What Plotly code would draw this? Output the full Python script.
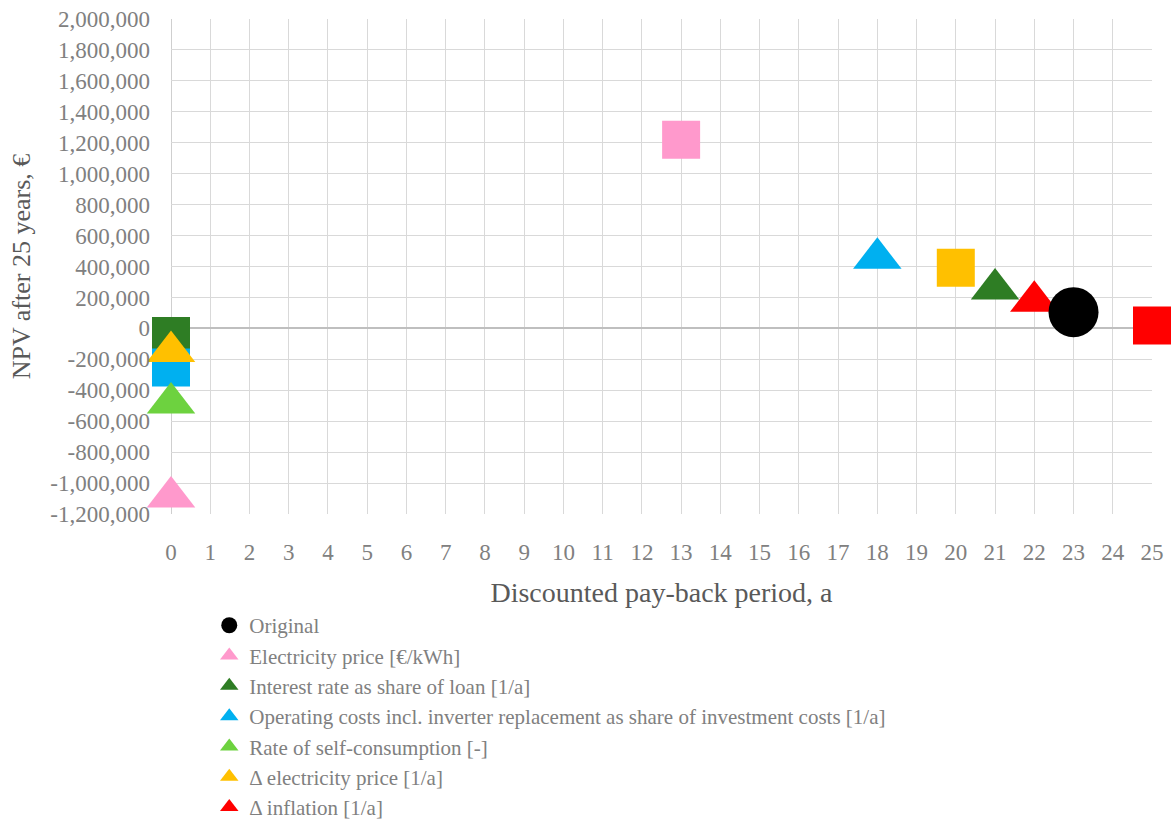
import plotly.graph_objects as go

# ---- data ----
original_x = [23]
original_y = [105000]

param_names = [
    "Electricity price [€/kWh]",
    "Interest rate as share of loan [1/a]",
    "Operating costs incl. inverter replacement as share of investment costs [1/a]",
    "Rate of self-consumption [-]",
    "Δ electricity price [1/a]",
    "Δ inflation [1/a]",
]
param_colors = ["#FF99CC", "#2E7D24", "#00B0F0", "#6DD23F", "#FFC000", "#FF0000"]

# triangle markers (one per parameter variation)
tri_x = [0, 21, 18, 0, 0, 22]
tri_y = [-1090000, 255000, 453000, -482000, -150000, 175000]

# square markers (other variation; None = not visible)
sq_x = [13, 0, 0, None, 20, 25]
sq_y = [1220000, -50000, -253000, None, 392000, 19000]

x_ticks = list(range(0, 26))
y_ticks = list(range(-1200000, 2000001, 200000))

FONT = "Liberation Serif"
TICK_COLOR = "#808080"
TITLE_COLOR = "#595959"

fig = go.Figure()

# squares (hidden from legend)
for name, col, x, y in zip(param_names, param_colors, sq_x, sq_y):
    if x is None:
        continue
    fig.add_trace(go.Scatter(
        x=[x], y=[y], mode="markers", name=name, showlegend=False,
        marker=dict(symbol="square", size=38, color=col),
        cliponaxis=False,
    ))

# triangles
for i, (name, col, x, y) in enumerate(zip(param_names, param_colors, tri_x, tri_y)):
    fig.add_trace(go.Scatter(
        x=[x], y=[y], mode="markers", name=name, legendrank=10 + i,
        marker=dict(symbol="triangle-up", size=42, color=col),
        cliponaxis=False,
    ))

# original
fig.add_trace(go.Scatter(
    x=original_x, y=original_y, mode="markers", name="Original", legendrank=1,
    marker=dict(symbol="circle", size=50, color="#000000"),
    cliponaxis=False,
))

fig.update_layout(
    width=1172, height=827,
    margin=dict(l=171, r=20, t=19, b=313, autoexpand=False),
    paper_bgcolor="white", plot_bgcolor="white",
    font=dict(family=FONT, color=TICK_COLOR),
    legend=dict(
        x=0.039, xanchor="left", y=-0.184, yanchor="top",
        font=dict(family=FONT, size=21, color=TICK_COLOR),
        bgcolor="rgba(0,0,0,0)", itemwidth=30,
    ),
    xaxis=dict(
        range=[0, 25], tickvals=x_ticks, ticktext=[str(v) for v in x_ticks],
        showgrid=True, gridcolor="#D9D9D9", gridwidth=1,
        zeroline=False, showline=False, ticks="",
        tickfont=dict(family=FONT, size=23, color=TICK_COLOR),
        ticklabelstandoff=22,
        title=dict(text="Discounted pay-back period, a", standoff=18,
                   font=dict(family=FONT, size=28, color=TITLE_COLOR)),
    ),
    yaxis=dict(
        range=[-1200000, 2000000], tickvals=y_ticks,
        ticktext=[f"{v:,}" for v in y_ticks],
        showgrid=True, gridcolor="#D9D9D9", gridwidth=1,
        zeroline=True, zerolinecolor="#BFBFBF", zerolinewidth=1.5,
        showline=False, ticks="",
        tickfont=dict(family=FONT, size=23, color=TICK_COLOR),
        ticklabelstandoff=20,
        title=dict(text="NPV after 25 years, €", standoff=12,
                   font=dict(family=FONT, size=26, color=TITLE_COLOR)),
    ),
    shapes=[dict(type="line", xref="x", yref="paper", x0=0, x1=0, y0=0, y1=1,
                 line=dict(color="#BFBFBF", width=1.5), layer="below")],
)

fig.write_html("out.html")
